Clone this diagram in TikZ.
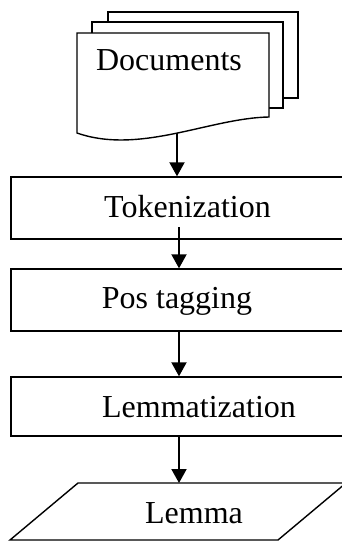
\documentclass[tikz,border=0pt]{standalone}
\usepackage{fontspec}
\setmainfont{Liberation Serif}
\usetikzlibrary{arrows.meta}
\begin{document}
\begin{tikzpicture}[x=1pt,y=-1pt,
  box/.style={draw,line width=1.4pt,fill=white,inner sep=0pt,minimum width=359pt},
  lbl/.style={anchor=base,inner sep=0pt,font=\fontsize{32}{38}\selectfont},
  sheet/.style={draw,line width=1.4pt,fill=white},
  flow/.style={line width=2pt,-{Triangle[width=15pt,length=14pt]}}]
\useasboundingbox (0,0) rectangle (342,541);
\clip (0,0) rectangle (342,541);
% document stack
\path[sheet] (108,12) rectangle (298,98);
\path[sheet] (92,22) rectangle (283,108);
\path[sheet] (77,133) -- (77,33) -- (269,33) -- (269,117)
  .. controls (210,118) and (140,155) .. (77,133) -- cycle;
\node[lbl] (doc) at (169,70) {Documents};
\coordinate (docb) at (177,133);
% boxes
\node[box,minimum height=62pt] (tok) at (190.5,208) {};
\node[lbl] (tokl) at (187.5,217) {Tokenization};
\node[box,minimum height=62pt] (pos) at (190.5,300) {};
\node[lbl] (posl) at (177,308) {Pos tagging};
\node[box,minimum height=59pt] (lem) at (190.5,406.5) {};
\node[lbl] (leml) at (199,417) {Lemmatization};
% output parallelogram
\path[sheet] (10,540) -- (78,483) -- (346,483) -- (278,540) -- cycle;
\coordinate (outt) at (179,483);
\node[lbl] (outl) at (194,523) {Lemma};
% connectors
\coordinate (t1) at (179,227);
\draw[flow] (docb) -- (docb |- tok.north);
\draw[flow] (t1) -- (t1 |- pos.north);
\draw[flow] (pos.south -| t1) -- (lem.north -| t1);
\draw[flow] (lem.south -| outt) -- (outt);
\end{tikzpicture}
\end{document}
